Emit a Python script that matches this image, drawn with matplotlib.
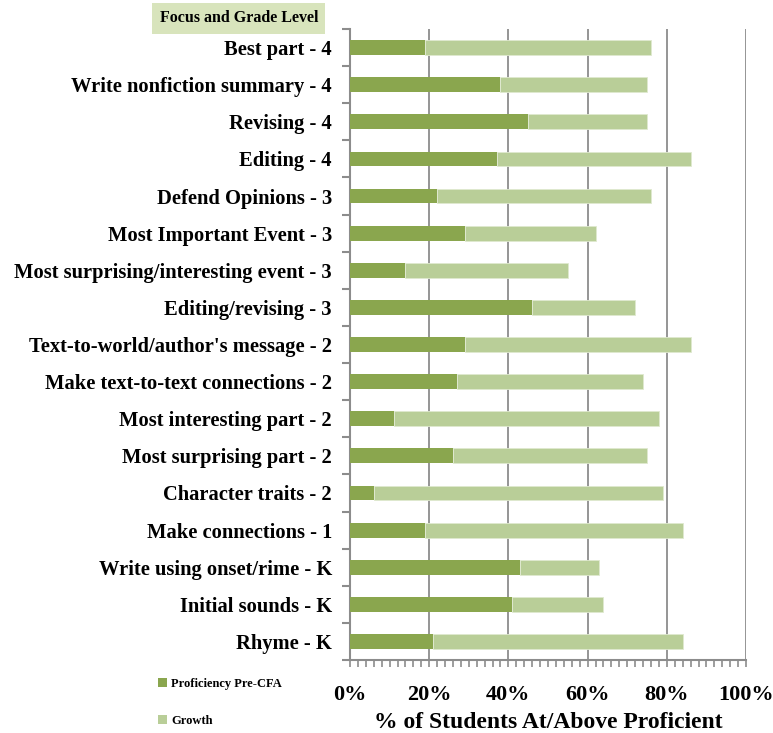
import matplotlib
matplotlib.use("Agg")
import matplotlib.pyplot as plt
from matplotlib.patches import Patch
from matplotlib.ticker import MultipleLocator, FixedLocator, FuncFormatter

# Focus areas by grade level, top to bottom
focus = [
    "Best part - 4",
    "Write nonfiction summary - 4",
    "Revising - 4",
    "Editing - 4",
    "Defend Opinions - 3",
    "Most Important Event - 3",
    "Most surprising/interesting event - 3",
    "Editing/revising - 3",
    "Text-to-world/author's message - 2",
    "Make text-to-text connections - 2",
    "Most interesting part - 2",
    "Most surprising part - 2",
    "Character traits - 2",
    "Make connections - 1",
    "Write using onset/rime - K",
    "Initial sounds - K",
    "Rhyme - K",
]
# % proficient before the CFA, and % proficient after
pre_cfa = [19, 38, 45, 37, 22, 29, 14, 46, 29, 27, 11, 26, 6, 19, 43, 41, 21]
post_cfa = [76, 75, 75, 86, 76, 62, 55, 72, 86, 74, 78, 75, 79, 84, 63, 64, 84]
growth = [post - pre for pre, post in zip(pre_cfa, post_cfa)]

dark_green = "#8aa64e"
light_green = "#b9ce98"
grid_gray = "#8c8c8c"
serif = ["Liberation Serif", "DejaVu Serif"]

plt.rcParams["font.family"] = serif
plt.rcParams["font.weight"] = "bold"

fig = plt.figure(figsize=(7.73, 7.33), dpi=100)
ax = fig.add_axes([0.4528, 0.0996, 0.5123, 0.8608])

ypos = list(range(len(focus)))
ax.barh(ypos, pre_cfa, height=0.4, color=dark_green, zorder=3)
ax.barh(ypos, growth, left=pre_cfa, height=0.4, color=light_green,
        edgecolor="#dfe9cf", linewidth=0.6, zorder=3)

ax.set_xlim(0, 100)
ax.set_ylim(len(focus) - 0.5, -0.5)

# vertical gridlines, incl. the 100% line on the right
ax.xaxis.set_major_locator(MultipleLocator(20))
ax.xaxis.set_minor_locator(MultipleLocator(2))
ax.grid(axis="x", which="major", color=grid_gray, linewidth=1.3, zorder=1)
ax.xaxis.set_major_formatter(FuncFormatter(lambda v, _: f"{v:.0f}%"))
ax.tick_params(axis="x", which="both", direction="out", length=5,
               width=1.2, color=grid_gray, pad=13, labelsize=16)

# category labels at bar centres, tick marks between categories
ax.set_yticks(ypos)
ax.set_yticklabels(focus)
ax.yaxis.set_minor_locator(FixedLocator([i - 0.5 for i in range(len(focus) + 1)]))
ax.tick_params(axis="y", which="major", length=0, pad=13, labelsize=14.8)
ax.tick_params(axis="y", which="minor", direction="out", length=6,
               width=1.5, color=grid_gray)

for side in ["top", "right"]:
    ax.spines[side].set_visible(False)
for side in ["left", "bottom"]:
    ax.spines[side].set_color(grid_gray)
    ax.spines[side].set_linewidth(1.5)

ax.set_xlabel("% of Students At/Above Proficient", fontsize=17,
              fontweight="bold", labelpad=5)

fig.text(0.309, 0.975, "Focus and Grade Level", ha="center", va="center",
         fontsize=11.5, fontweight="bold",
         bbox=dict(boxstyle="square,pad=0.45", facecolor="#d8e4bc",
                   edgecolor="none"))

handles = [Patch(facecolor=dark_green, label="Proficiency Pre-CFA"),
           Patch(facecolor=light_green, label="Growth")]
fig.legend(handles=handles, loc="upper left", bbox_to_anchor=(0.19, 0.091),
           frameon=False, fontsize=9, handlelength=0.75, handleheight=0.75,
           handletextpad=0.3, labelspacing=2.0)

fig.savefig("out.png", dpi=100)
